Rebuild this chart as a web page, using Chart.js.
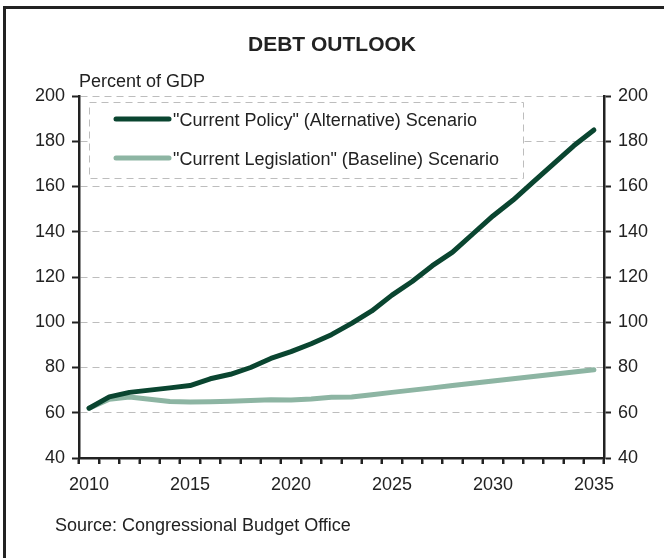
<!DOCTYPE html>
<html>
<head>
<meta charset="utf-8">
<script src="https://cdn.jsdelivr.net/npm/chart.js@4/dist/chart.umd.min.js"></script>
<style>
  html, body { margin: 0; padding: 0; background: #fff; }
  #wrap { position: relative; width: 664px; height: 558px; }
</style>
</head>
<body>
<div id="wrap"><canvas id="debtChart" width="664" height="558"></canvas></div>
<script>
const years = [
  "2010", "2011", "2012", "2013", "2014", "2015", "2016", "2017", "2018",
  "2019", "2020", "2021", "2022", "2023", "2024", "2025", "2026", "2027",
  "2028", "2029", "2030", "2031", "2032", "2033", "2034", "2035"
];

// "Current Policy" (Alternative) scenario, percent of GDP
const currentPolicy = [
  62, 67, 69, 70, 71, 72, 75, 77, 80, 84, 87, 90.5, 94.5, 99.5,
  105, 112, 118, 125, 131, 139, 147, 154, 162, 170, 178, 185
];

// "Current Legislation" (Baseline) scenario, percent of GDP
const currentLegislation = [
  62, 66, 67, 66, 65, 64.8, 64.9, 65.1, 65.4, 65.8, 65.6, 66.1, 66.8, 67,
  68, 69, 70, 71, 72, 73, 74, 75, 76, 77, 78, 79
];

const yTicks = [40, 60, 80, 100, 120, 140, 160, 180, 200];

const seriesLabels = [
  '"Current Policy" (Alternative) Scenario',
  '"Current Legislation" (Baseline) Scenario'
];
const seriesColors = ["#0a4530", "#8db5a3"];

const FONT = "'Liberation Sans', Arial, Helvetica, sans-serif";
const INK = "#222222";

// frame, title, unit label, source note and the boxed legend
const decorations = {
  id: "decorations",
  beforeDraw(chart) {
    const ctx = chart.ctx;
    ctx.save();
    ctx.fillStyle = "#fff";
    ctx.fillRect(0, 0, chart.width, chart.height);
    ctx.fillStyle = INK;
    ctx.fillRect(3, 6, chart.width - 3, 3);
    ctx.fillRect(3, 6, 3, chart.height - 6);
    ctx.restore();
  },
  afterDraw(chart) {
    const ctx = chart.ctx;
    ctx.save();
    ctx.fillStyle = INK;
    ctx.textBaseline = "alphabetic";
    ctx.font = "bold 21px " + FONT;
    ctx.textAlign = "center";
    ctx.fillText("DEBT OUTLOOK", 332, 51);
    ctx.font = "18px " + FONT;
    ctx.textAlign = "left";
    ctx.fillText("Percent of GDP", 79, 87);
    ctx.fillText("Source: Congressional Budget Office", 55, 531);

    // legend box
    ctx.fillStyle = "#fff";
    ctx.fillRect(89, 102, 434, 76);
    ctx.strokeStyle = "#bdbdbd";
    ctx.lineWidth = 1;
    ctx.setLineDash([7, 5]);
    ctx.strokeRect(89.5, 102.5, 434, 76);
    ctx.setLineDash([]);
    chart.data.datasets.forEach((ds, i) => {
      const y = 119 + i * 39;
      ctx.strokeStyle = ds.borderColor;
      ctx.lineWidth = 5;
      ctx.lineCap = "round";
      ctx.beginPath();
      ctx.moveTo(116, y);
      ctx.lineTo(169, y);
      ctx.stroke();
      ctx.fillStyle = INK;
      ctx.font = "18px " + FONT;
      ctx.fillText(ds.label, 173, y + 7);
    });

    // year tick marks along the bottom axis, at category boundaries
    const x = chart.scales.x;
    ctx.strokeStyle = INK;
    ctx.lineWidth = 2;
    ctx.lineCap = "butt";
    for (let i = 0; i <= years.length; i++) {
      const px = Math.round(x.left + (x.width * i) / years.length);
      ctx.beginPath();
      ctx.moveTo(px, x.top);
      ctx.lineTo(px, x.top + 6);
      ctx.stroke();
    }
    ctx.restore();
  }
};

const debtChart = new Chart(document.getElementById("debtChart"), {
  type: "line",
  data: {
    labels: years,
    datasets: [
      {
        label: seriesLabels[0],
        data: currentPolicy,
        borderColor: seriesColors[0],
        borderWidth: 5,
        pointRadius: 0,
        borderCapStyle: "round",
        borderJoinStyle: "round",
        tension: 0,
        yAxisID: "y"
      },
      {
        label: seriesLabels[1],
        data: currentLegislation,
        borderColor: seriesColors[1],
        borderWidth: 5,
        pointRadius: 0,
        borderCapStyle: "round",
        borderJoinStyle: "round",
        tension: 0,
        yAxisID: "y"
      }
    ]
  },
  options: {
    responsive: false,
    animation: false,
    devicePixelRatio: 1,
    layout: { padding: { top: 96, left: 0, right: 0, bottom: 0 } },
    plugins: {
      legend: { display: false },
      tooltip: { enabled: false }
    },
    scales: {
      x: {
        type: "category",
        offset: true,
        grid: {
          offset: true,
          drawOnChartArea: false,
          drawTicks: true,
          tickLength: 6,
          tickColor: INK,
          tickWidth: 2
        },
        border: { display: true, color: INK, width: 2.5 },
        ticks: {
          autoSkip: false,
          maxRotation: 0,
          padding: 10,
          color: INK,
          font: { family: FONT, size: 18 },
          callback: function (value) {
            const label = this.getLabelForValue(value);
            return Number(label) % 5 === 0 ? label : "";
          }
        },
        afterFit: (scale) => { scale.height = 100; }
      },
      y: {
        position: "left",
        min: yTicks[0],
        max: yTicks[yTicks.length - 1],
        afterBuildTicks: (scale) => { scale.ticks = yTicks.map(v => ({ value: v })); },
        grid: {
          color: "#bdbdbd",
          lineWidth: 1,
          drawTicks: true,
          tickLength: 7,
          tickColor: INK,
          tickWidth: 2
        },
        border: { display: true, color: INK, width: 2.5, dash: [7, 5] },
        ticks: {
          padding: 7,
          color: INK,
          font: { family: FONT, size: 18 }
        },
        afterFit: (scale) => { scale.width = 79; }
      },
      y2: {
        position: "right",
        min: yTicks[0],
        max: yTicks[yTicks.length - 1],
        afterBuildTicks: (scale) => { scale.ticks = yTicks.map(v => ({ value: v })); },
        grid: {
          drawOnChartArea: false,
          drawTicks: true,
          tickLength: 7,
          tickColor: INK,
          tickWidth: 2
        },
        border: { display: true, color: INK, width: 2.5 },
        ticks: {
          padding: 7,
          color: INK,
          font: { family: FONT, size: 18 }
        },
        afterFit: (scale) => { scale.width = 60; }
      }
    }
  },
  plugins: [decorations]
});
</script>
</body>
</html>
